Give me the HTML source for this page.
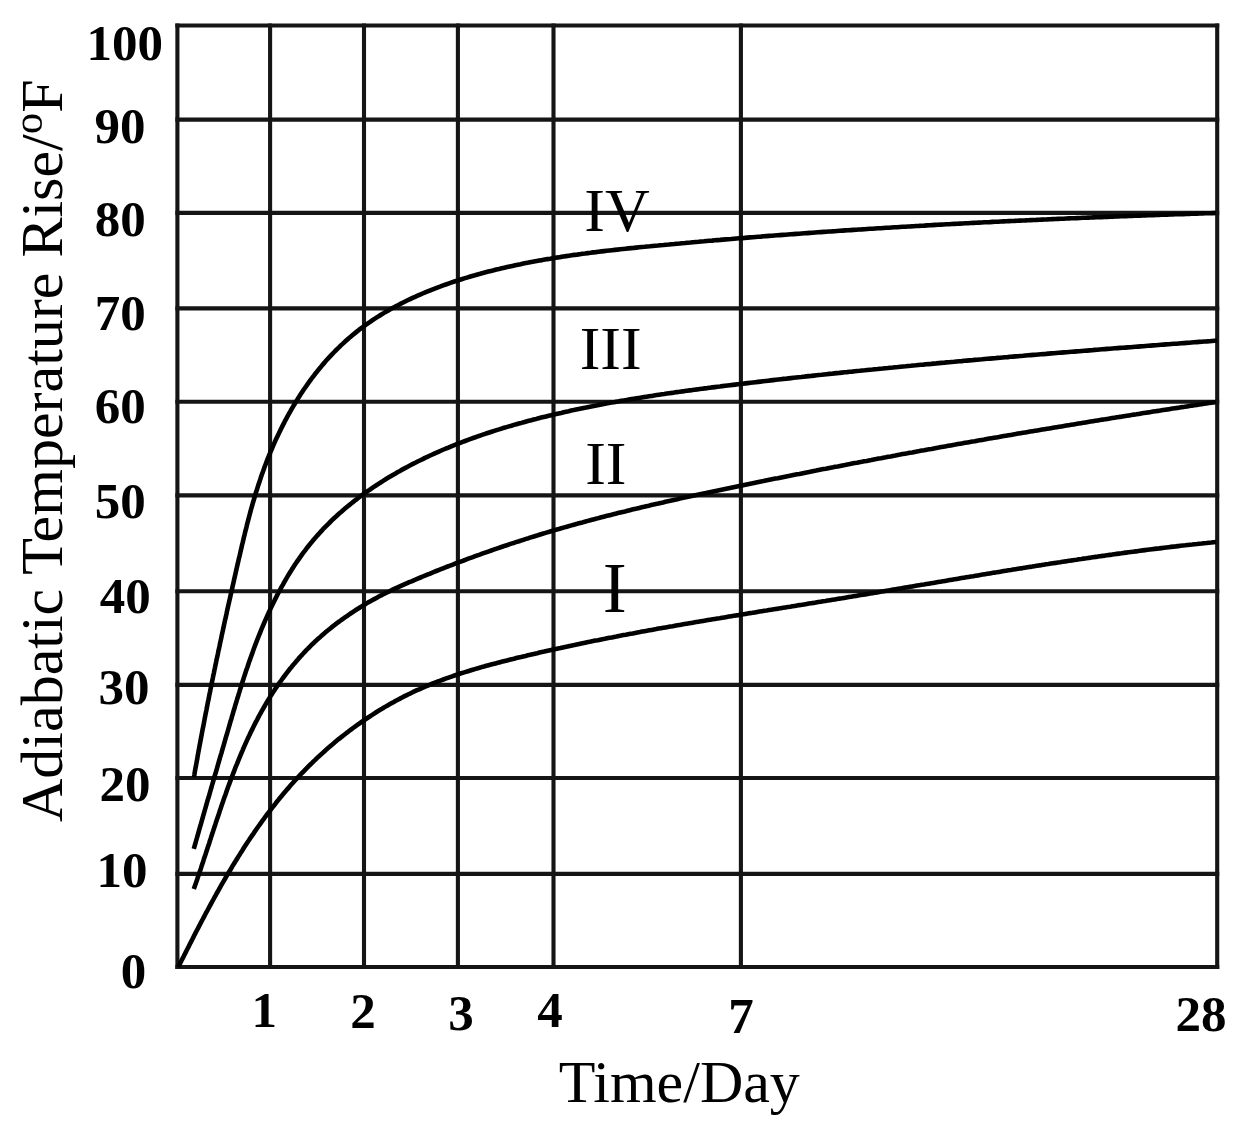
<!DOCTYPE html>
<html><head><meta charset="utf-8"><style>
html,body{margin:0;padding:0;background:#fff;}
body{width:1244px;height:1141px;overflow:hidden;}
svg{display:block;filter:blur(0.6px);}
.g{stroke:#151515;stroke-width:4.1;fill:none;}
.c{stroke:#000;stroke-width:4.6;fill:none;stroke-linecap:butt;stroke-linejoin:round;}
.t{font-family:"Liberation Serif",serif;font-weight:bold;font-size:51px;fill:#000;}
.r{font-family:"Liberation Serif",serif;font-size:60px;fill:#000;}
.n{font-size:62px;}
</style></head><body>
<svg width="1244" height="1141" viewBox="0 0 1244 1141">
<line x1="177.4" y1="23.45" x2="177.4" y2="969.05" class="g"/>
<line x1="270.1" y1="23.45" x2="270.1" y2="969.05" class="g"/>
<line x1="364" y1="23.45" x2="364" y2="969.05" class="g"/>
<line x1="457.9" y1="23.45" x2="457.9" y2="969.05" class="g"/>
<line x1="553.5" y1="23.45" x2="553.5" y2="969.05" class="g"/>
<line x1="740.9" y1="23.45" x2="740.9" y2="969.05" class="g"/>
<line x1="1217.2" y1="23.45" x2="1217.2" y2="969.05" class="g"/>
<line x1="175.35" y1="25.5" x2="1219.25" y2="25.5" class="g"/>
<line x1="175.35" y1="119.6" x2="1219.25" y2="119.6" class="g"/>
<line x1="175.35" y1="212.9" x2="1219.25" y2="212.9" class="g"/>
<line x1="175.35" y1="308.4" x2="1219.25" y2="308.4" class="g"/>
<line x1="175.35" y1="401.7" x2="1219.25" y2="401.7" class="g"/>
<line x1="175.35" y1="495.4" x2="1219.25" y2="495.4" class="g"/>
<line x1="175.35" y1="591.3" x2="1219.25" y2="591.3" class="g"/>
<line x1="175.35" y1="684.9" x2="1219.25" y2="684.9" class="g"/>
<line x1="175.35" y1="778" x2="1219.25" y2="778" class="g"/>
<line x1="175.35" y1="873.9" x2="1219.25" y2="873.9" class="g"/>
<line x1="175.35" y1="967" x2="1219.25" y2="967" class="g"/>
<path d="M178.3,967.0 L179.4,964.9 L180.4,962.8 L181.4,960.7 L182.5,958.6 L183.6,956.6 L184.6,954.5 L185.7,952.4 L186.7,950.3 L187.8,948.2 L188.9,946.1 L189.9,944.0 L191.0,941.9 L192.1,939.8 L193.1,937.7 L194.2,935.5 L195.3,933.4 L196.4,931.3 L197.5,929.2 L198.6,927.1 L199.7,925.0 L200.8,922.9 L201.9,920.8 L203.0,918.7 L204.1,916.6 L205.2,914.5 L206.3,912.4 L207.5,910.3 L208.6,908.2 L209.7,906.1 L210.9,904.0 L212.0,901.9 L213.2,899.8 L214.3,897.7 L215.5,895.6 L216.6,893.5 L217.8,891.5 L219.0,889.4 L220.1,887.3 L221.3,885.2 L222.5,883.1 L223.7,881.1 L224.9,879.0 L226.1,876.9 L227.3,874.9 L228.5,872.8 L229.8,870.7 L231.0,868.7 L232.2,866.6 L233.5,864.6 L234.7,862.5 L236.0,860.5 L237.2,858.5 L238.5,856.4 L239.8,854.4 L241.0,852.4 L242.3,850.4 L243.6,848.3 L244.9,846.3 L246.2,844.3 L247.5,842.3 L248.9,840.3 L250.2,838.3 L251.5,836.4 L252.9,834.4 L254.2,832.4 L255.6,830.4 L256.9,828.5 L258.3,826.5 L259.7,824.6 L261.1,822.6 L262.5,820.7 L263.9,818.8 L265.3,816.8 L266.7,814.9 L268.2,813.0 L269.6,811.1 L271.1,809.2 L272.5,807.3 L274.0,805.5 L275.5,803.6 L276.9,801.7 L278.4,799.9 L279.9,798.0 L281.4,796.2 L283.0,794.3 L284.5,792.5 L286.0,790.7 L287.6,788.9 L289.2,787.1 L290.7,785.3 L292.3,783.5 L293.9,781.7 L295.5,780.0 L297.1,778.2 L298.7,776.5 L300.4,774.7 L302.0,773.0 L303.7,771.3 L305.3,769.6 L307.0,767.9 L308.7,766.2 L310.4,764.5 L312.1,762.9 L313.8,761.2 L315.5,759.6 L317.2,757.9 L319.0,756.3 L320.7,754.7 L322.5,753.1 L324.3,751.5 L326.0,749.9 L327.8,748.3 L329.6,746.8 L331.4,745.2 L333.2,743.7 L335.1,742.1 L336.9,740.6 L338.7,739.1 L340.6,737.6 L342.5,736.1 L344.3,734.7 L346.2,733.2 L348.1,731.8 L350.0,730.3 L351.9,728.9 L353.8,727.5 L355.7,726.1 L357.7,724.7 L359.6,723.3 L361.5,722.0 L363.5,720.6 L365.5,719.3 L367.4,718.0 L369.4,716.7 L371.4,715.4 L373.4,714.1 L375.4,712.8 L377.4,711.5 L379.4,710.3 L381.5,709.1 L383.5,707.8 L385.5,706.6 L387.6,705.4 L389.6,704.3 L391.7,703.1 L393.8,702.0 L395.8,700.8 L397.9,699.7 L400.0,698.6 L402.1,697.5 L404.2,696.4 L406.3,695.4 L408.5,694.3 L410.6,693.3 L412.7,692.2 L414.9,691.2 L417.0,690.2 L419.2,689.3 L421.3,688.3 L423.5,687.4 L425.7,686.4 L427.9,685.5 L430.1,684.6 L432.2,683.7 L434.4,682.8 L436.6,682.0 L438.9,681.1 L441.1,680.3 L443.3,679.5 L445.5,678.7 L447.8,677.9 L450.0,677.1 L452.2,676.3 L454.5,675.5 L456.7,674.8 L459.0,674.0 L461.2,673.3 L463.5,672.6 L465.8,671.9 L468.0,671.2 L470.3,670.5 L472.6,669.8 L474.9,669.1 L477.1,668.4 L479.4,667.8 L481.7,667.1 L484.0,666.5 L486.3,665.8 L488.6,665.2 L490.9,664.6 L493.2,664.0 L495.5,663.4 L497.8,662.8 L500.1,662.2 L502.4,661.6 L504.8,661.0 L507.1,660.4 L509.4,659.8 L511.7,659.2 L514.0,658.7 L516.3,658.1 L518.6,657.5 L521.0,657.0 L523.3,656.4 L525.6,655.9 L527.9,655.3 L530.2,654.8 L532.6,654.2 L534.9,653.7 L537.2,653.2 L539.5,652.6 L541.9,652.1 L544.2,651.6 L546.5,651.0 L548.8,650.5 L551.2,650.0 L553.5,649.5 L555.8,649.0 L558.1,648.5 L560.5,648.0 L562.8,647.4 L565.1,646.9 L567.5,646.4 L569.8,645.9 L572.1,645.4 L574.4,645.0 L576.8,644.5 L579.1,644.0 L581.4,643.5 L583.8,643.0 L586.1,642.5 L588.4,642.0 L590.8,641.6 L593.1,641.1 L595.4,640.6 L597.8,640.2 L600.1,639.7 L602.4,639.2 L604.8,638.8 L607.1,638.3 L609.5,637.8 L611.8,637.4 L614.1,636.9 L616.5,636.5 L618.8,636.0 L621.1,635.6 L623.5,635.1 L625.8,634.7 L628.2,634.2 L630.5,633.8 L632.8,633.4 L635.2,632.9 L637.5,632.5 L639.9,632.1 L642.2,631.6 L644.5,631.2 L646.9,630.8 L649.2,630.3 L651.6,629.9 L653.9,629.5 L656.3,629.1 L658.6,628.6 L660.9,628.2 L663.3,627.8 L665.6,627.4 L668.0,627.0 L670.3,626.6 L672.7,626.2 L675.0,625.7 L677.4,625.3 L679.7,624.9 L682.1,624.5 L684.4,624.1 L686.7,623.7 L689.1,623.3 L691.4,622.9 L693.8,622.5 L696.1,622.1 L698.5,621.7 L700.8,621.3 L703.2,620.9 L705.5,620.5 L707.9,620.1 L710.2,619.7 L712.6,619.3 L714.9,618.9 L717.3,618.5 L719.6,618.2 L722.0,617.8 L724.3,617.4 L726.7,617.0 L729.0,616.6 L731.4,616.2 L733.7,615.8 L736.1,615.4 L738.4,615.1 L740.8,614.7 L743.1,614.3 L745.4,613.9 L747.8,613.5 L750.1,613.1 L752.5,612.8 L754.8,612.4 L757.2,612.0 L759.5,611.6 L761.9,611.2 L764.2,610.8 L766.6,610.5 L769.0,610.1 L771.3,609.7 L773.7,609.3 L776.0,608.9 L778.4,608.6 L780.7,608.2 L783.1,607.8 L785.4,607.4 L787.8,607.0 L790.1,606.7 L792.5,606.3 L794.8,605.9 L797.2,605.5 L799.5,605.1 L801.9,604.8 L804.2,604.4 L806.6,604.0 L808.9,603.6 L811.3,603.2 L813.6,602.9 L816.0,602.5 L818.3,602.1 L820.7,601.7 L823.0,601.3 L825.4,601.0 L827.7,600.6 L830.1,600.2 L832.4,599.8 L834.8,599.4 L837.1,599.0 L839.4,598.6 L841.8,598.3 L844.1,597.9 L846.5,597.5 L848.8,597.1 L851.2,596.7 L853.5,596.3 L855.9,595.9 L858.2,595.5 L860.6,595.1 L862.9,594.7 L865.3,594.4 L867.6,594.0 L870.0,593.6 L872.3,593.2 L874.7,592.8 L877.0,592.4 L879.4,592.0 L881.7,591.6 L884.1,591.2 L886.4,590.8 L888.8,590.4 L891.1,590.0 L893.4,589.6 L895.8,589.2 L898.1,588.8 L900.5,588.4 L902.8,588.0 L905.2,587.6 L907.5,587.2 L909.9,586.8 L912.2,586.4 L914.6,586.0 L916.9,585.6 L919.3,585.2 L921.6,584.8 L924.0,584.5 L926.3,584.1 L928.7,583.7 L931.0,583.3 L933.3,582.9 L935.7,582.5 L938.0,582.1 L940.4,581.7 L942.7,581.3 L945.1,580.9 L947.4,580.5 L949.8,580.1 L952.1,579.7 L954.5,579.3 L956.8,578.9 L959.2,578.5 L961.5,578.1 L963.9,577.7 L966.2,577.3 L968.5,576.9 L970.9,576.5 L973.2,576.2 L975.6,575.8 L977.9,575.4 L980.3,575.0 L982.6,574.6 L985.0,574.2 L987.3,573.8 L989.7,573.4 L992.0,573.0 L994.4,572.6 L996.7,572.3 L999.1,571.9 L1001.4,571.5 L1003.8,571.1 L1006.1,570.7 L1008.5,570.3 L1010.8,570.0 L1013.2,569.6 L1015.5,569.2 L1017.9,568.8 L1020.2,568.4 L1022.6,568.1 L1024.9,567.7 L1027.3,567.3 L1029.6,566.9 L1032.0,566.6 L1034.3,566.2 L1036.7,565.8 L1039.0,565.4 L1041.4,565.1 L1043.7,564.7 L1046.1,564.3 L1048.4,564.0 L1050.8,563.6 L1053.1,563.2 L1055.5,562.9 L1057.8,562.5 L1060.2,562.2 L1062.5,561.8 L1064.9,561.4 L1067.2,561.1 L1069.6,560.7 L1071.9,560.4 L1074.3,560.0 L1076.6,559.7 L1079.0,559.3 L1081.4,559.0 L1083.7,558.6 L1086.1,558.3 L1088.4,557.9 L1090.8,557.6 L1093.1,557.2 L1095.5,556.9 L1097.8,556.6 L1100.2,556.2 L1102.5,555.9 L1104.9,555.6 L1107.3,555.2 L1109.6,554.9 L1112.0,554.6 L1114.3,554.2 L1116.7,553.9 L1119.0,553.6 L1121.4,553.3 L1123.8,552.9 L1126.1,552.6 L1128.5,552.3 L1130.8,552.0 L1133.2,551.7 L1135.6,551.4 L1137.9,551.1 L1140.3,550.7 L1142.6,550.4 L1145.0,550.1 L1147.4,549.8 L1149.7,549.5 L1152.1,549.2 L1154.5,548.9 L1156.8,548.6 L1159.2,548.4 L1161.5,548.1 L1163.9,547.8 L1166.3,547.5 L1168.6,547.2 L1171.0,546.9 L1173.4,546.6 L1175.7,546.4 L1178.1,546.1 L1180.5,545.8 L1182.8,545.5 L1185.2,545.3 L1187.6,545.0 L1189.9,544.7 L1192.3,544.5 L1194.7,544.2 L1197.0,544.0 L1199.4,543.7 L1201.8,543.5 L1204.1,543.2 L1206.5,543.0 L1208.9,542.7 L1211.3,542.5 L1213.6,542.2 L1216.0,542.0" class="c"/>
<path d="M193.8,889.0 L194.6,886.7 L195.4,884.4 L196.2,882.2 L197.0,879.9 L197.8,877.6 L198.5,875.3 L199.3,873.0 L200.1,870.7 L200.9,868.4 L201.6,866.1 L202.4,863.7 L203.2,861.4 L203.9,859.1 L204.7,856.8 L205.5,854.5 L206.2,852.2 L207.0,849.8 L207.7,847.5 L208.5,845.2 L209.3,842.9 L210.0,840.5 L210.8,838.2 L211.5,835.9 L212.3,833.5 L213.1,831.2 L213.8,828.9 L214.6,826.5 L215.4,824.2 L216.1,821.9 L216.9,819.5 L217.7,817.2 L218.5,814.9 L219.3,812.5 L220.0,810.2 L220.8,807.9 L221.6,805.6 L222.4,803.2 L223.2,800.9 L224.0,798.6 L224.8,796.3 L225.7,794.0 L226.5,791.6 L227.3,789.3 L228.1,787.0 L229.0,784.7 L229.8,782.4 L230.7,780.1 L231.5,777.8 L232.4,775.5 L233.3,773.2 L234.2,770.9 L235.0,768.7 L235.9,766.4 L236.9,764.1 L237.8,761.8 L238.7,759.6 L239.6,757.3 L240.6,755.0 L241.5,752.8 L242.5,750.6 L243.4,748.3 L244.4,746.1 L245.4,743.9 L246.4,741.6 L247.4,739.4 L248.4,737.2 L249.5,735.0 L250.5,732.8 L251.6,730.6 L252.7,728.4 L253.7,726.2 L254.8,724.1 L255.9,721.9 L257.1,719.8 L258.2,717.6 L259.3,715.5 L260.5,713.3 L261.7,711.2 L262.9,709.1 L264.1,707.0 L265.3,704.9 L266.5,702.8 L267.8,700.7 L269.0,698.7 L270.3,696.6 L271.6,694.5 L272.9,692.5 L274.3,690.5 L275.6,688.4 L277.0,686.4 L278.4,684.4 L279.8,682.4 L281.2,680.5 L282.6,678.5 L284.1,676.5 L285.5,674.6 L287.0,672.6 L288.5,670.7 L290.0,668.8 L291.6,666.9 L293.1,665.0 L294.7,663.2 L296.3,661.3 L297.9,659.5 L299.5,657.6 L301.1,655.8 L302.8,654.0 L304.5,652.2 L306.1,650.4 L307.9,648.7 L309.6,647.0 L311.3,645.2 L313.1,643.5 L314.8,641.8 L316.6,640.2 L318.4,638.5 L320.3,636.9 L322.1,635.3 L323.9,633.7 L325.8,632.1 L327.7,630.5 L329.6,629.0 L331.5,627.4 L333.4,625.9 L335.4,624.4 L337.3,622.9 L339.3,621.5 L341.3,620.0 L343.3,618.6 L345.3,617.2 L347.3,615.8 L349.3,614.4 L351.3,613.0 L353.4,611.7 L355.4,610.3 L357.5,609.0 L359.5,607.7 L361.6,606.4 L363.7,605.1 L365.8,603.9 L367.9,602.6 L370.0,601.4 L372.1,600.2 L374.2,599.1 L376.4,597.9 L378.5,596.8 L380.7,595.6 L382.9,594.5 L385.0,593.4 L387.2,592.3 L389.4,591.3 L391.6,590.2 L393.8,589.2 L396.0,588.2 L398.2,587.2 L400.4,586.2 L402.6,585.2 L404.9,584.2 L407.1,583.2 L409.3,582.2 L411.6,581.3 L413.8,580.3 L416.0,579.4 L418.3,578.4 L420.5,577.5 L422.8,576.5 L425.0,575.6 L427.3,574.7 L429.6,573.8 L431.8,572.8 L434.1,571.9 L436.3,571.0 L438.6,570.1 L440.9,569.2 L443.1,568.3 L445.4,567.4 L447.7,566.5 L450.0,565.7 L452.3,564.8 L454.5,563.9 L456.8,563.0 L459.1,562.2 L461.4,561.3 L463.7,560.5 L466.0,559.6 L468.3,558.7 L470.6,557.9 L472.9,557.1 L475.2,556.2 L477.5,555.4 L479.8,554.6 L482.1,553.7 L484.4,552.9 L486.7,552.1 L489.0,551.3 L491.3,550.5 L493.6,549.7 L495.9,548.9 L498.2,548.1 L500.6,547.3 L502.9,546.5 L505.2,545.7 L507.5,545.0 L509.8,544.2 L512.2,543.4 L514.5,542.7 L516.8,541.9 L519.1,541.2 L521.5,540.4 L523.8,539.7 L526.1,538.9 L528.5,538.2 L530.8,537.4 L533.1,536.7 L535.5,536.0 L537.8,535.3 L540.2,534.5 L542.5,533.8 L544.8,533.1 L547.2,532.4 L549.5,531.7 L551.9,531.0 L554.2,530.3 L556.6,529.6 L558.9,529.0 L561.3,528.3 L563.6,527.6 L566.0,526.9 L568.3,526.3 L570.7,525.6 L573.0,524.9 L575.4,524.3 L577.7,523.6 L580.1,523.0 L582.5,522.4 L584.8,521.7 L587.2,521.1 L589.5,520.4 L591.9,519.8 L594.3,519.2 L596.6,518.6 L599.0,517.9 L601.3,517.3 L603.7,516.7 L606.1,516.1 L608.4,515.5 L610.8,514.9 L613.2,514.3 L615.6,513.7 L617.9,513.1 L620.3,512.5 L622.7,511.9 L625.0,511.4 L627.4,510.8 L629.8,510.2 L632.2,509.6 L634.5,509.0 L636.9,508.5 L639.3,507.9 L641.7,507.3 L644.0,506.8 L646.4,506.2 L648.8,505.7 L651.2,505.1 L653.5,504.6 L655.9,504.0 L658.3,503.5 L660.7,502.9 L663.1,502.4 L665.4,501.8 L667.8,501.3 L670.2,500.8 L672.6,500.2 L675.0,499.7 L677.4,499.2 L679.8,498.6 L682.1,498.1 L684.5,497.6 L686.9,497.1 L689.3,496.5 L691.7,496.0 L694.1,495.5 L696.5,495.0 L698.8,494.5 L701.2,494.0 L703.6,493.5 L706.0,493.0 L708.4,492.4 L710.8,491.9 L713.2,491.4 L715.6,490.9 L718.0,490.4 L720.4,489.9 L722.7,489.4 L725.1,488.9 L727.5,488.4 L729.9,487.9 L732.3,487.4 L734.7,486.9 L737.1,486.4 L739.5,485.9 L741.9,485.5 L744.3,485.0 L746.7,484.5 L749.1,484.0 L751.5,483.5 L753.9,483.0 L756.2,482.5 L758.6,482.0 L761.0,481.5 L763.4,481.1 L765.8,480.6 L768.2,480.1 L770.6,479.6 L773.0,479.1 L775.4,478.6 L777.8,478.2 L780.2,477.7 L782.6,477.2 L785.0,476.7 L787.4,476.2 L789.8,475.8 L792.2,475.3 L794.6,474.8 L797.0,474.3 L799.4,473.9 L801.8,473.4 L804.2,472.9 L806.6,472.4 L809.0,472.0 L811.4,471.5 L813.8,471.0 L816.2,470.6 L818.6,470.1 L821.0,469.6 L823.4,469.1 L825.8,468.7 L828.2,468.2 L830.6,467.7 L833.0,467.3 L835.3,466.8 L837.7,466.4 L840.1,465.9 L842.5,465.4 L845.0,465.0 L847.4,464.5 L849.8,464.1 L852.2,463.6 L854.6,463.1 L857.0,462.7 L859.4,462.2 L861.8,461.8 L864.2,461.3 L866.6,460.9 L869.0,460.4 L871.4,460.0 L873.8,459.5 L876.2,459.1 L878.6,458.6 L881.0,458.2 L883.4,457.7 L885.8,457.3 L888.2,456.8 L890.6,456.4 L893.0,455.9 L895.4,455.5 L897.8,455.0 L900.2,454.6 L902.6,454.1 L905.0,453.7 L907.4,453.3 L909.8,452.8 L912.2,452.4 L914.6,451.9 L917.0,451.5 L919.4,451.1 L921.8,450.6 L924.2,450.2 L926.6,449.7 L929.1,449.3 L931.5,448.9 L933.9,448.4 L936.3,448.0 L938.7,447.6 L941.1,447.1 L943.5,446.7 L945.9,446.3 L948.3,445.8 L950.7,445.4 L953.1,445.0 L955.5,444.6 L957.9,444.1 L960.3,443.7 L962.7,443.3 L965.1,442.8 L967.6,442.4 L970.0,442.0 L972.4,441.6 L974.8,441.2 L977.2,440.7 L979.6,440.3 L982.0,439.9 L984.4,439.5 L986.8,439.0 L989.2,438.6 L991.6,438.2 L994.0,437.8 L996.4,437.4 L998.9,437.0 L1001.3,436.5 L1003.7,436.1 L1006.1,435.7 L1008.5,435.3 L1010.9,434.9 L1013.3,434.5 L1015.7,434.1 L1018.1,433.6 L1020.5,433.2 L1022.9,432.8 L1025.4,432.4 L1027.8,432.0 L1030.2,431.6 L1032.6,431.2 L1035.0,430.8 L1037.4,430.4 L1039.8,430.0 L1042.2,429.6 L1044.6,429.2 L1047.1,428.8 L1049.5,428.4 L1051.9,428.0 L1054.3,427.6 L1056.7,427.2 L1059.1,426.8 L1061.5,426.4 L1063.9,426.0 L1066.3,425.6 L1068.8,425.2 L1071.2,424.8 L1073.6,424.4 L1076.0,424.0 L1078.4,423.6 L1080.8,423.2 L1083.2,422.8 L1085.6,422.4 L1088.0,422.0 L1090.5,421.6 L1092.9,421.2 L1095.3,420.8 L1097.7,420.4 L1100.1,420.0 L1102.5,419.6 L1104.9,419.3 L1107.3,418.9 L1109.8,418.5 L1112.2,418.1 L1114.6,417.7 L1117.0,417.3 L1119.4,416.9 L1121.8,416.6 L1124.2,416.2 L1126.7,415.8 L1129.1,415.4 L1131.5,415.0 L1133.9,414.6 L1136.3,414.3 L1138.7,413.9 L1141.1,413.5 L1143.6,413.1 L1146.0,412.7 L1148.4,412.4 L1150.8,412.0 L1153.2,411.6 L1155.6,411.2 L1158.0,410.9 L1160.5,410.5 L1162.9,410.1 L1165.3,409.7 L1167.7,409.4 L1170.1,409.0 L1172.5,408.6 L1174.9,408.2 L1177.4,407.9 L1179.8,407.5 L1182.2,407.1 L1184.6,406.8 L1187.0,406.4 L1189.4,406.0 L1191.8,405.6 L1194.3,405.3 L1196.7,404.9 L1199.1,404.5 L1201.5,404.2 L1203.9,403.8 L1206.3,403.5 L1208.8,403.1 L1211.2,402.7 L1213.6,402.4 L1216.0,402.0" class="c"/>
<path d="M193.8,848.9 L194.5,846.4 L195.2,844.0 L195.9,841.5 L196.6,839.0 L197.3,836.6 L198.0,834.1 L198.7,831.6 L199.4,829.2 L200.1,826.7 L200.8,824.3 L201.5,821.8 L202.2,819.3 L202.9,816.9 L203.6,814.4 L204.3,812.0 L205.0,809.5 L205.7,807.1 L206.4,804.6 L207.1,802.2 L207.8,799.7 L208.6,797.3 L209.3,794.8 L210.0,792.4 L210.7,789.9 L211.4,787.5 L212.1,785.0 L212.8,782.6 L213.5,780.1 L214.2,777.7 L214.9,775.2 L215.7,772.8 L216.4,770.3 L217.1,767.8 L217.8,765.4 L218.5,762.9 L219.2,760.5 L219.9,758.0 L220.6,755.6 L221.4,753.1 L222.1,750.7 L222.8,748.2 L223.5,745.8 L224.2,743.3 L224.9,740.8 L225.6,738.4 L226.3,735.9 L227.1,733.5 L227.8,731.0 L228.5,728.5 L229.2,726.1 L229.9,723.6 L230.6,721.2 L231.4,718.7 L232.1,716.2 L232.8,713.8 L233.5,711.3 L234.3,708.8 L235.0,706.4 L235.7,703.9 L236.5,701.5 L237.2,699.0 L238.0,696.5 L238.7,694.1 L239.5,691.6 L240.2,689.2 L241.0,686.7 L241.8,684.3 L242.5,681.8 L243.3,679.4 L244.1,676.9 L244.9,674.5 L245.7,672.0 L246.5,669.6 L247.4,667.2 L248.2,664.7 L249.0,662.3 L249.9,659.9 L250.7,657.5 L251.6,655.1 L252.5,652.6 L253.3,650.2 L254.2,647.8 L255.1,645.4 L256.0,643.0 L256.9,640.6 L257.9,638.2 L258.8,635.8 L259.8,633.5 L260.7,631.1 L261.7,628.7 L262.7,626.3 L263.7,624.0 L264.7,621.6 L265.7,619.3 L266.8,616.9 L267.8,614.6 L268.9,612.2 L270.0,609.9 L271.0,607.6 L272.2,605.3 L273.3,603.0 L274.4,600.7 L275.6,598.4 L276.7,596.1 L277.9,593.8 L279.1,591.5 L280.3,589.3 L281.5,587.0 L282.8,584.8 L284.0,582.6 L285.3,580.3 L286.6,578.1 L287.9,575.9 L289.2,573.8 L290.6,571.6 L291.9,569.4 L293.3,567.3 L294.7,565.1 L296.1,563.0 L297.5,560.9 L299.0,558.8 L300.5,556.7 L301.9,554.6 L303.4,552.6 L305.0,550.6 L306.5,548.5 L308.1,546.5 L309.7,544.5 L311.3,542.6 L312.9,540.6 L314.5,538.7 L316.2,536.8 L317.9,534.9 L319.6,533.0 L321.3,531.1 L323.0,529.2 L324.8,527.4 L326.6,525.6 L328.4,523.8 L330.2,522.0 L332.0,520.2 L333.8,518.5 L335.7,516.8 L337.6,515.0 L339.5,513.3 L341.4,511.7 L343.3,510.0 L345.3,508.3 L347.2,506.7 L349.2,505.1 L351.2,503.5 L353.2,501.9 L355.2,500.3 L357.2,498.8 L359.2,497.2 L361.3,495.7 L363.4,494.2 L365.4,492.7 L367.5,491.2 L369.6,489.8 L371.7,488.3 L373.8,486.9 L376.0,485.5 L378.1,484.1 L380.3,482.7 L382.4,481.3 L384.6,479.9 L386.8,478.6 L388.9,477.3 L391.1,476.0 L393.3,474.7 L395.6,473.4 L397.8,472.1 L400.0,470.9 L402.2,469.6 L404.5,468.4 L406.7,467.2 L409.0,466.0 L411.2,464.8 L413.5,463.6 L415.8,462.5 L418.1,461.3 L420.4,460.2 L422.7,459.1 L425.0,457.9 L427.3,456.9 L429.6,455.8 L431.9,454.7 L434.3,453.6 L436.6,452.6 L438.9,451.6 L441.3,450.5 L443.6,449.5 L446.0,448.5 L448.4,447.6 L450.7,446.6 L453.1,445.6 L455.5,444.7 L457.9,443.7 L460.3,442.8 L462.7,441.9 L465.1,441.0 L467.5,440.1 L469.9,439.2 L472.3,438.3 L474.7,437.5 L477.1,436.6 L479.5,435.8 L482.0,434.9 L484.4,434.1 L486.8,433.3 L489.3,432.5 L491.7,431.7 L494.2,430.9 L496.6,430.1 L499.1,429.4 L501.5,428.6 L504.0,427.8 L506.5,427.1 L508.9,426.4 L511.4,425.7 L513.9,424.9 L516.4,424.2 L518.8,423.5 L521.3,422.9 L523.8,422.2 L526.3,421.5 L528.8,420.8 L531.2,420.2 L533.7,419.5 L536.2,418.9 L538.7,418.2 L541.2,417.6 L543.7,417.0 L546.2,416.4 L548.7,415.8 L551.2,415.2 L553.7,414.6 L556.2,414.0 L558.7,413.4 L561.2,412.9 L563.7,412.3 L566.2,411.7 L568.7,411.2 L571.2,410.6 L573.7,410.1 L576.2,409.5 L578.7,409.0 L581.2,408.5 L583.7,408.0 L586.2,407.5 L588.8,406.9 L591.3,406.4 L593.8,405.9 L596.3,405.5 L598.8,405.0 L601.3,404.5 L603.8,404.0 L606.3,403.5 L608.8,403.1 L611.4,402.6 L613.9,402.2 L616.4,401.7 L618.9,401.3 L621.4,400.8 L623.9,400.4 L626.5,400.0 L629.0,399.5 L631.5,399.1 L634.0,398.7 L636.5,398.3 L639.0,397.9 L641.6,397.5 L644.1,397.1 L646.6,396.7 L649.1,396.3 L651.7,395.9 L654.2,395.5 L656.7,395.1 L659.2,394.7 L661.8,394.3 L664.3,394.0 L666.8,393.6 L669.3,393.2 L671.9,392.9 L674.4,392.5 L676.9,392.1 L679.4,391.8 L682.0,391.4 L684.5,391.1 L687.0,390.7 L689.6,390.4 L692.1,390.1 L694.6,389.7 L697.2,389.4 L699.7,389.0 L702.2,388.7 L704.7,388.4 L707.3,388.1 L709.8,387.7 L712.3,387.4 L714.9,387.1 L717.4,386.8 L719.9,386.5 L722.5,386.1 L725.0,385.8 L727.6,385.5 L730.1,385.2 L732.6,384.9 L735.2,384.6 L737.7,384.3 L740.2,384.0 L742.8,383.7 L745.3,383.4 L747.8,383.1 L750.4,382.8 L752.9,382.5 L755.5,382.2 L758.0,381.9 L760.5,381.6 L763.1,381.3 L765.6,381.0 L768.2,380.7 L770.7,380.4 L773.2,380.1 L775.8,379.8 L778.3,379.5 L780.9,379.2 L783.4,378.9 L785.9,378.7 L788.5,378.4 L791.0,378.1 L793.6,377.8 L796.1,377.5 L798.7,377.2 L801.2,377.0 L803.7,376.7 L806.3,376.4 L808.8,376.1 L811.4,375.9 L813.9,375.6 L816.5,375.3 L819.0,375.0 L821.6,374.8 L824.1,374.5 L826.6,374.2 L829.2,373.9 L831.7,373.7 L834.3,373.4 L836.8,373.1 L839.4,372.9 L841.9,372.6 L844.5,372.3 L847.0,372.1 L849.6,371.8 L852.1,371.6 L854.7,371.3 L857.2,371.0 L859.8,370.8 L862.3,370.5 L864.8,370.3 L867.4,370.0 L869.9,369.7 L872.5,369.5 L875.0,369.2 L877.6,369.0 L880.1,368.7 L882.7,368.5 L885.2,368.2 L887.8,368.0 L890.3,367.7 L892.9,367.5 L895.4,367.2 L898.0,367.0 L900.5,366.7 L903.1,366.5 L905.6,366.3 L908.2,366.0 L910.7,365.8 L913.3,365.5 L915.8,365.3 L918.4,365.0 L920.9,364.8 L923.5,364.6 L926.0,364.3 L928.6,364.1 L931.2,363.9 L933.7,363.6 L936.3,363.4 L938.8,363.1 L941.4,362.9 L943.9,362.7 L946.5,362.4 L949.0,362.2 L951.6,362.0 L954.1,361.8 L956.7,361.5 L959.2,361.3 L961.8,361.1 L964.3,360.8 L966.9,360.6 L969.4,360.4 L972.0,360.2 L974.5,359.9 L977.1,359.7 L979.7,359.5 L982.2,359.3 L984.8,359.0 L987.3,358.8 L989.9,358.6 L992.4,358.4 L995.0,358.2 L997.5,357.9 L1000.1,357.7 L1002.6,357.5 L1005.2,357.3 L1007.7,357.1 L1010.3,356.8 L1012.8,356.6 L1015.4,356.4 L1018.0,356.2 L1020.5,356.0 L1023.1,355.8 L1025.6,355.5 L1028.2,355.3 L1030.7,355.1 L1033.3,354.9 L1035.8,354.7 L1038.4,354.5 L1040.9,354.3 L1043.5,354.1 L1046.0,353.9 L1048.6,353.6 L1051.2,353.4 L1053.7,353.2 L1056.3,353.0 L1058.8,352.8 L1061.4,352.6 L1063.9,352.4 L1066.5,352.2 L1069.0,352.0 L1071.6,351.8 L1074.1,351.6 L1076.7,351.4 L1079.2,351.2 L1081.8,351.0 L1084.3,350.8 L1086.9,350.6 L1089.5,350.4 L1092.0,350.2 L1094.6,349.9 L1097.1,349.7 L1099.7,349.5 L1102.2,349.3 L1104.8,349.1 L1107.3,348.9 L1109.9,348.7 L1112.4,348.5 L1115.0,348.3 L1117.5,348.1 L1120.1,347.9 L1122.6,347.8 L1125.2,347.6 L1127.7,347.4 L1130.3,347.2 L1132.9,347.0 L1135.4,346.8 L1138.0,346.6 L1140.5,346.4 L1143.1,346.2 L1145.6,346.0 L1148.2,345.8 L1150.7,345.6 L1153.3,345.4 L1155.8,345.2 L1158.4,345.0 L1160.9,344.8 L1163.5,344.6 L1166.0,344.4 L1168.6,344.2 L1171.1,344.0 L1173.7,343.8 L1176.2,343.7 L1178.8,343.5 L1181.3,343.3 L1183.9,343.1 L1186.4,342.9 L1189.0,342.7 L1191.5,342.5 L1194.1,342.3 L1196.6,342.1 L1199.2,341.9 L1201.7,341.7 L1204.3,341.5 L1206.8,341.4 L1209.4,341.2 L1211.9,341.0 L1214.5,340.8 L1217.0,340.6" class="c"/>
<path d="M193.9,777.3 L194.4,774.6 L194.8,771.9 L195.3,769.2 L195.8,766.5 L196.3,763.8 L196.8,761.1 L197.3,758.5 L197.7,755.8 L198.2,753.1 L198.7,750.4 L199.2,747.7 L199.7,745.0 L200.2,742.3 L200.7,739.7 L201.2,737.0 L201.7,734.3 L202.2,731.6 L202.7,728.9 L203.3,726.3 L203.8,723.6 L204.3,720.9 L204.8,718.2 L205.3,715.6 L205.8,712.9 L206.4,710.2 L206.9,707.5 L207.4,704.9 L207.9,702.2 L208.5,699.5 L209.0,696.9 L209.5,694.2 L210.1,691.5 L210.6,688.8 L211.2,686.2 L211.7,683.5 L212.2,680.8 L212.8,678.2 L213.3,675.5 L213.9,672.9 L214.4,670.2 L215.0,667.5 L215.5,664.9 L216.1,662.2 L216.6,659.5 L217.2,656.9 L217.8,654.2 L218.3,651.6 L218.9,648.9 L219.5,646.2 L220.0,643.6 L220.6,640.9 L221.2,638.3 L221.7,635.6 L222.3,632.9 L222.9,630.3 L223.5,627.6 L224.0,625.0 L224.6,622.3 L225.2,619.6 L225.8,617.0 L226.4,614.3 L226.9,611.7 L227.5,609.0 L228.1,606.3 L228.7,603.7 L229.3,601.0 L229.9,598.4 L230.5,595.7 L231.1,593.1 L231.7,590.4 L232.3,587.7 L232.9,585.1 L233.5,582.4 L234.1,579.8 L234.7,577.1 L235.3,574.4 L235.9,571.8 L236.5,569.1 L237.1,566.5 L237.7,563.8 L238.3,561.2 L238.9,558.5 L239.6,555.8 L240.2,553.2 L240.8,550.5 L241.4,547.9 L242.0,545.2 L242.7,542.5 L243.3,539.9 L243.9,537.2 L244.6,534.6 L245.2,531.9 L245.9,529.3 L246.6,526.6 L247.2,523.9 L247.9,521.3 L248.6,518.7 L249.3,516.0 L250.0,513.4 L250.7,510.7 L251.4,508.1 L252.2,505.5 L252.9,502.8 L253.7,500.2 L254.5,497.6 L255.3,494.9 L256.0,492.3 L256.9,489.7 L257.7,487.1 L258.5,484.5 L259.4,481.9 L260.3,479.3 L261.1,476.7 L262.0,474.1 L263.0,471.5 L263.9,468.9 L264.8,466.3 L265.8,463.8 L266.8,461.2 L267.8,458.6 L268.8,456.1 L269.9,453.5 L270.9,451.0 L272.0,448.5 L273.1,445.9 L274.2,443.4 L275.3,440.9 L276.4,438.4 L277.6,435.9 L278.8,433.5 L280.0,431.0 L281.2,428.5 L282.4,426.1 L283.7,423.6 L284.9,421.2 L286.2,418.8 L287.5,416.4 L288.8,414.0 L290.2,411.6 L291.5,409.2 L292.9,406.9 L294.3,404.5 L295.7,402.2 L297.1,399.9 L298.6,397.6 L300.0,395.3 L301.5,393.0 L303.0,390.7 L304.5,388.5 L306.1,386.3 L307.6,384.1 L309.2,381.9 L310.8,379.7 L312.4,377.5 L314.1,375.4 L315.7,373.2 L317.4,371.1 L319.1,369.0 L320.8,367.0 L322.5,364.9 L324.3,362.9 L326.0,360.8 L327.8,358.8 L329.6,356.9 L331.5,354.9 L333.3,353.0 L335.2,351.0 L337.1,349.1 L339.0,347.3 L340.9,345.4 L342.9,343.6 L344.8,341.8 L346.8,340.0 L348.8,338.2 L350.9,336.5 L352.9,334.8 L355.0,333.1 L357.1,331.4 L359.2,329.7 L361.3,328.1 L363.5,326.5 L365.7,324.9 L367.9,323.4 L370.1,321.9 L372.3,320.3 L374.5,318.9 L376.8,317.4 L379.1,316.0 L381.4,314.5 L383.7,313.1 L386.0,311.8 L388.4,310.4 L390.7,309.1 L393.1,307.7 L395.5,306.4 L397.9,305.2 L400.3,303.9 L402.7,302.7 L405.2,301.5 L407.6,300.3 L410.1,299.1 L412.6,297.9 L415.1,296.8 L417.6,295.7 L420.1,294.6 L422.6,293.5 L425.2,292.4 L427.7,291.4 L430.3,290.3 L432.8,289.3 L435.4,288.3 L438.0,287.3 L440.6,286.4 L443.2,285.4 L445.8,284.5 L448.4,283.6 L451.0,282.7 L453.7,281.8 L456.3,280.9 L458.9,280.1 L461.6,279.2 L464.2,278.4 L466.9,277.6 L469.6,276.8 L472.2,276.0 L474.9,275.3 L477.6,274.5 L480.2,273.8 L482.9,273.0 L485.6,272.3 L488.3,271.6 L491.0,270.9 L493.7,270.3 L496.4,269.6 L499.0,269.0 L501.7,268.3 L504.4,267.7 L507.1,267.1 L509.8,266.5 L512.5,265.9 L515.2,265.3 L517.9,264.7 L520.6,264.2 L523.3,263.6 L525.9,263.1 L528.6,262.6 L531.3,262.0 L534.0,261.5 L536.7,261.0 L539.4,260.5 L542.1,260.1 L544.8,259.6 L547.5,259.1 L550.2,258.7 L552.8,258.2 L555.5,257.8 L558.2,257.4 L560.9,256.9 L563.6,256.5 L566.3,256.1 L569.0,255.7 L571.7,255.3 L574.4,254.9 L577.1,254.6 L579.8,254.2 L582.4,253.8 L585.1,253.5 L587.8,253.1 L590.5,252.8 L593.2,252.4 L595.9,252.1 L598.6,251.7 L601.3,251.4 L604.0,251.1 L606.7,250.8 L609.4,250.5 L612.1,250.2 L614.8,249.9 L617.5,249.6 L620.2,249.3 L622.9,249.0 L625.6,248.7 L628.3,248.4 L631.0,248.1 L633.7,247.9 L636.4,247.6 L639.1,247.3 L641.8,247.0 L644.5,246.8 L647.2,246.5 L649.9,246.3 L652.6,246.0 L655.3,245.7 L658.0,245.5 L660.7,245.2 L663.4,245.0 L666.1,244.7 L668.8,244.5 L671.5,244.2 L674.2,244.0 L676.9,243.7 L679.6,243.5 L682.3,243.2 L685.0,243.0 L687.7,242.7 L690.4,242.5 L693.1,242.2 L695.8,242.0 L698.5,241.8 L701.2,241.5 L704.0,241.3 L706.7,241.0 L709.4,240.8 L712.1,240.6 L714.8,240.3 L717.5,240.1 L720.2,239.9 L722.9,239.6 L725.6,239.4 L728.4,239.2 L731.1,239.0 L733.8,238.7 L736.5,238.5 L739.2,238.3 L741.9,238.1 L744.6,237.9 L747.3,237.6 L750.1,237.4 L752.8,237.2 L755.5,237.0 L758.2,236.8 L760.9,236.6 L763.6,236.3 L766.4,236.1 L769.1,235.9 L771.8,235.7 L774.5,235.5 L777.2,235.3 L780.0,235.1 L782.7,234.9 L785.4,234.7 L788.1,234.5 L790.8,234.3 L793.5,234.1 L796.3,233.9 L799.0,233.7 L801.7,233.5 L804.4,233.3 L807.2,233.1 L809.9,232.9 L812.6,232.7 L815.3,232.5 L818.0,232.3 L820.8,232.1 L823.5,231.9 L826.2,231.7 L828.9,231.5 L831.7,231.4 L834.4,231.2 L837.1,231.0 L839.8,230.8 L842.6,230.6 L845.3,230.4 L848.0,230.3 L850.7,230.1 L853.4,229.9 L856.2,229.7 L858.9,229.5 L861.6,229.4 L864.4,229.2 L867.1,229.0 L869.8,228.8 L872.5,228.7 L875.3,228.5 L878.0,228.3 L880.7,228.2 L883.4,228.0 L886.2,227.8 L888.9,227.7 L891.6,227.5 L894.3,227.3 L897.1,227.2 L899.8,227.0 L902.5,226.8 L905.3,226.7 L908.0,226.5 L910.7,226.4 L913.4,226.2 L916.2,226.0 L918.9,225.9 L921.6,225.7 L924.3,225.6 L927.1,225.4 L929.8,225.3 L932.5,225.1 L935.3,224.9 L938.0,224.8 L940.7,224.6 L943.5,224.5 L946.2,224.3 L948.9,224.2 L951.6,224.0 L954.4,223.9 L957.1,223.8 L959.8,223.6 L962.6,223.5 L965.3,223.3 L968.0,223.2 L970.7,223.0 L973.5,222.9 L976.2,222.8 L978.9,222.6 L981.7,222.5 L984.4,222.3 L987.1,222.2 L989.8,222.1 L992.6,221.9 L995.3,221.8 L998.0,221.7 L1000.8,221.5 L1003.5,221.4 L1006.2,221.3 L1009.0,221.1 L1011.7,221.0 L1014.4,220.9 L1017.1,220.7 L1019.9,220.6 L1022.6,220.5 L1025.3,220.4 L1028.1,220.2 L1030.8,220.1 L1033.5,220.0 L1036.2,219.9 L1039.0,219.7 L1041.7,219.6 L1044.4,219.5 L1047.2,219.4 L1049.9,219.2 L1052.6,219.1 L1055.3,219.0 L1058.1,218.9 L1060.8,218.8 L1063.5,218.7 L1066.3,218.5 L1069.0,218.4 L1071.7,218.3 L1074.4,218.2 L1077.2,218.1 L1079.9,218.0 L1082.6,217.8 L1085.3,217.7 L1088.1,217.6 L1090.8,217.5 L1093.5,217.4 L1096.3,217.3 L1099.0,217.2 L1101.7,217.1 L1104.4,217.0 L1107.2,216.9 L1109.9,216.7 L1112.6,216.6 L1115.3,216.5 L1118.1,216.4 L1120.8,216.3 L1123.5,216.2 L1126.2,216.1 L1129.0,216.0 L1131.7,215.9 L1134.4,215.8 L1137.1,215.7 L1139.8,215.6 L1142.6,215.5 L1145.3,215.4 L1148.0,215.3 L1150.7,215.2 L1153.5,215.1 L1156.2,215.0 L1158.9,214.9 L1161.6,214.8 L1164.3,214.7 L1167.1,214.6 L1169.8,214.5 L1172.5,214.4 L1175.2,214.3 L1177.9,214.3 L1180.7,214.2 L1183.4,214.1 L1186.1,214.0 L1188.8,213.9 L1191.5,213.8 L1194.3,213.7 L1197.0,213.6 L1199.7,213.5 L1202.4,213.4 L1205.1,213.3 L1207.8,213.3 L1210.6,213.2 L1213.3,213.1 L1216.0,213.0" class="c"/>
<text x="124.8" y="59.5" class="t" text-anchor="middle">100</text>
<text x="120.1" y="143.4" class="t" text-anchor="middle">90</text>
<text x="120.2" y="235.8" class="t" text-anchor="middle">80</text>
<text x="120.2" y="330.0" class="t" text-anchor="middle">70</text>
<text x="120.2" y="423.4" class="t" text-anchor="middle">60</text>
<text x="120.3" y="517.9" class="t" text-anchor="middle">50</text>
<text x="125.3" y="613.0" class="t" text-anchor="middle">40</text>
<text x="124.0" y="703.8" class="t" text-anchor="middle">30</text>
<text x="125.0" y="800.6" class="t" text-anchor="middle">20</text>
<text x="121.9" y="886.8" class="t" text-anchor="middle">10</text>
<text x="133.5" y="987.5" class="t" text-anchor="middle">0</text>
<text x="264.3" y="1026.7" class="t" text-anchor="middle">1</text>
<text x="363.0" y="1027.8" class="t" text-anchor="middle">2</text>
<text x="461.1" y="1029.9" class="t" text-anchor="middle">3</text>
<text x="550.0" y="1027.2" class="t" text-anchor="middle">4</text>
<text x="741.1" y="1032.5" class="t" text-anchor="middle">7</text>
<text x="1201.1" y="1030.9" class="t" text-anchor="middle">28</text>
<text x="617.0" y="231.2" class="r" text-anchor="middle" style="font-size:62px">IV</text>
<text x="610.7" y="368.9" class="r" text-anchor="middle" style="font-size:62px">III</text>
<text x="605.8" y="484.0" class="r" text-anchor="middle" style="font-size:62px">II</text>
<text x="614.8" y="611.8" class="r" text-anchor="middle" style="font-size:72px">I</text>
<text x="679.3" y="1101.8" class="r" text-anchor="middle">Time/Day</text>
<text transform="translate(62,822) rotate(-90)" class="r">Adiabatic Temperature Rise/<tspan dy="-20" font-size="43">o</tspan><tspan dy="20">F</tspan></text>
</svg>
</body></html>
